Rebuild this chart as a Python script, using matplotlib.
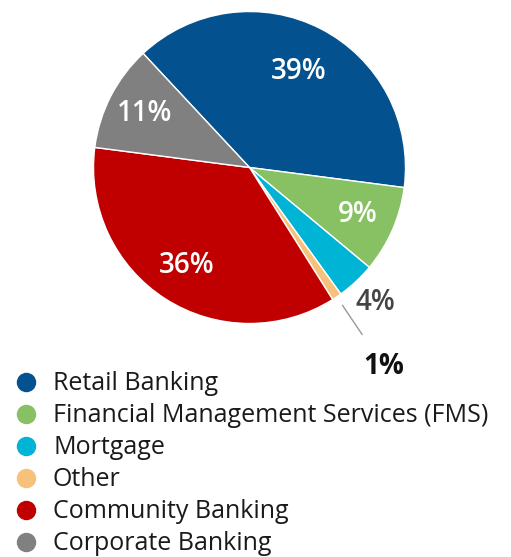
import numpy as np
import matplotlib
matplotlib.use("Agg")
import matplotlib.pyplot as plt
from matplotlib.lines import Line2D

# Datos del grafico
segmentos = ["Retail Banking", "Financial Management Services (FMS)", "Mortgage",
             "Other", "Community Banking", "Corporate Banking"]
porcentajes = [39, 9, 4, 1, 36, 11]
colores = ["#03528F", "#88C064", "#00B4D5", "#F6C27A", "#C00000", "#808080"]

# estilo de las etiquetas (distancia radial, color, peso)
dist_etiqueta = [0.69, 0.76, 1.18, 1.54, 0.745, 0.755]
color_etiqueta = ["white", "white", "#444444", "#111111", "white", "white"]
peso_etiqueta = ["semibold"] * 3 + ["bold"] + ["semibold"] * 2

plt.rcParams["font.family"] = ["Open Sans", "DejaVu Sans"]

fig = plt.figure(figsize=(5.11, 5.57), dpi=100)
radio_px = 156
cx, cy = 249.5, 167.5
ax = fig.add_axes([(cx - radio_px) / 511, 1 - (cy + radio_px) / 557,
                   2 * radio_px / 511, 2 * radio_px / 557])

wedges, _ = ax.pie(porcentajes, colors=colores, startangle=133, counterclock=False,
                   radius=1, wedgeprops=dict(edgecolor="white", linewidth=1))
ax.set_xlim(-1, 1)
ax.set_ylim(-1, 1)
ax.set_aspect("equal")
ax.axis("off")

for w, p, d, c, fw in zip(wedges, porcentajes, dist_etiqueta, color_etiqueta, peso_etiqueta):
    ang = np.deg2rad((w.theta1 + w.theta2) / 2)
    ax.text(d * np.cos(ang), d * np.sin(ang), f"{p}%", ha="center", va="center",
            fontsize=20, fontweight=fw, color=c, clip_on=False)

# linea guia para "Other"
w = wedges[3]
ang = np.deg2rad((w.theta1 + w.theta2) / 2)
ax.plot([1.067 * np.cos(ang), 1.29 * np.cos(ang)], [1.067 * np.sin(ang), 1.29 * np.sin(ang)],
        color="#999999", lw=1, clip_on=False)

handles = [Line2D([], [], marker="o", linestyle="", markersize=13, markerfacecolor=c,
                  markeredgecolor=c) for c in colores]
fig.legend(handles, segmentos, loc="upper left", bbox_to_anchor=(13.5 / 511, 1 - 371.5 / 557),
           frameon=False, fontsize=18, handletextpad=0.58, labelspacing=0.28,
           handlelength=1.0, borderpad=0, borderaxespad=0, labelcolor="#1a1a1a")

fig.savefig("out.png", dpi=100)
